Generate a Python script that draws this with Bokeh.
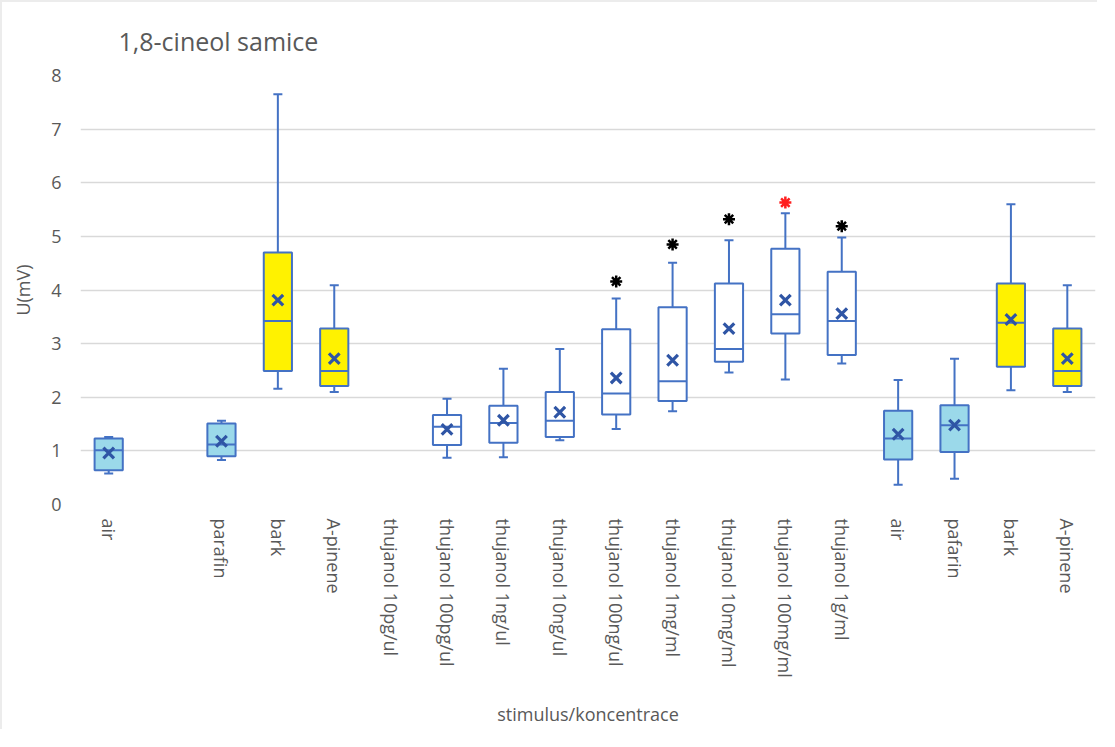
from bokeh.plotting import figure
from bokeh.models import Range1d, FixedTicker, ColumnDataSource
from bokeh.embed import file_html
from bokeh.resources import INLINE

# ---- data ----
categories = ["air", "", "parafin", "bark", "A-pinene",
              "thujanol 10pg/ul", "thujanol 100pg/ul", "thujanol 1ng/ul",
              "thujanol 10ng/ul", "thujanol 100ng/ul", "thujanol 1mg/ml",
              "thujanol 10mg/ml", "thujanol 100mg/ml", "thujanol 1g/ml",
              "air", "pafarin", "bark", "A-pinene"]
group = ["control", None, "control", "positive", "positive",
         None, "test", "test", "test", "test", "test", "test", "test", "test",
         "control", "control", "positive", "positive"]
whisker_low = [0.58, None, 0.83, 2.16, 2.10, None, 0.87, 0.88, 1.20, 1.41, 1.74, 2.46, 2.33, 2.63, 0.37, 0.48, 2.13, 2.10]
q1 =          [0.64, None, 0.90, 2.49, 2.21, None, 1.11, 1.15, 1.26, 1.68, 1.93, 2.66, 3.19, 2.79, 0.84, 0.98, 2.57, 2.21]
median =      [1.01, None, 1.12, 3.42, 2.49, None, 1.45, 1.52, 1.56, 2.07, 2.30, 2.90, 3.55, 3.42, 1.23, 1.48, 3.39, 2.49]
q3 =          [1.23, None, 1.51, 4.70, 3.28, None, 1.67, 1.84, 2.10, 3.27, 3.68, 4.12, 4.77, 4.34, 1.75, 1.85, 4.12, 3.28]
whisker_high =[1.26, None, 1.56, 7.65, 4.09, None, 1.97, 2.53, 2.90, 3.84, 4.51, 4.93, 5.43, 4.98, 2.32, 2.72, 5.60, 4.09]
mean =        [0.96, None, 1.18, 3.81, 2.72, None, 1.40, 1.57, 1.72, 2.36, 2.69, 3.28, 3.81, 3.56, 1.31, 1.48, 3.45, 2.72]

sig_index = [9, 10, 11, 12, 13]
sig_y = [4.16, 4.85, 5.32, 5.63, 5.19]
sig_color = ["black", "black", "black", "#ff2020", "black"]

fill_colors = {"control": "#9bd9ea", "positive": "#fff200", "test": "#ffffff"}
LINE = "#4472c4"
MEAN = "#2f55a5"
GRAY = "#595959"
FONT = "Open Sans"

BOX_W = 0.5
CAP_W = 0.16

# ---- build sources ----
pos = list(range(1, len(categories) + 1))
idx = [i for i in range(len(categories)) if median[i] is not None]
x = [pos[i] for i in idx]
src = ColumnDataSource(dict(
    x=x,
    lo=[whisker_low[i] for i in idx],
    q1=[q1[i] for i in idx],
    med=[median[i] for i in idx],
    q3=[q3[i] for i in idx],
    hi=[whisker_high[i] for i in idx],
    mean=[mean[i] for i in idx],
    fill=[fill_colors[group[i]] for i in idx],
    xl=[pos[i] - BOX_W / 2 for i in idx],
    xr=[pos[i] + BOX_W / 2 for i in idx],
    cl=[pos[i] - CAP_W / 2 for i in idx],
    cr=[pos[i] + CAP_W / 2 for i in idx],
))

p = figure(width=1097, height=729, output_backend="svg", toolbar_location=None,
           x_range=Range1d(0.5, len(categories) + 0.5), y_range=Range1d(0, 8),
           title="1,8-cineol samice",
           min_border_left=78, min_border_right=4, min_border_top=73, min_border_bottom=227)
p.styles = {"border-left": "2px solid #ececec", "border-top": "2px solid #ececec"}
p.outline_line_color = None
p.background_fill_color = "white"
p.border_fill_color = "white"

# title
p.title.text_font = FONT
p.title.text_font_size = "25px"
p.title.text_font_style = "normal"
p.title.text_color = GRAY
p.title.align = "left"
p.title.offset = 38
p.title.standoff = 36

# whiskers
p.segment(x0="x", y0="q3", x1="x", y1="hi", source=src, line_color=LINE, line_width=2)
p.segment(x0="x", y0="lo", x1="x", y1="q1", source=src, line_color=LINE, line_width=2)
p.segment(x0="cl", y0="hi", x1="cr", y1="hi", source=src, line_color=LINE, line_width=2)
p.segment(x0="cl", y0="lo", x1="cr", y1="lo", source=src, line_color=LINE, line_width=2)
# boxes
p.vbar(x="x", width=BOX_W, top="q3", bottom="q1", source=src,
       fill_color="fill", line_color=LINE, line_width=2)
# medians
p.segment(x0="xl", y0="med", x1="xr", y1="med", source=src, line_color=LINE, line_width=2)
# means
p.scatter(x="x", y="mean", source=src, marker="x", size=15, line_color=MEAN, line_width=3.2)

# significance stars
star_src = ColumnDataSource(dict(x=[pos[i] for i in sig_index], y=sig_y, c=sig_color))
p.scatter(x="x", y="y", source=star_src, marker="asterisk", size=12, line_color="c", line_width=2.5)

# axes
p.yaxis.ticker = FixedTicker(ticks=list(range(0, 9)))
p.yaxis.axis_line_color = None
p.yaxis.major_tick_line_color = None
p.yaxis.minor_tick_line_color = None
p.yaxis.major_label_text_font = FONT
p.yaxis.major_label_text_font_size = "18px"
p.yaxis.major_label_text_color = GRAY
p.yaxis.major_label_standoff = 13
p.yaxis.axis_label = "U(mV)"
p.yaxis.axis_label_text_font = FONT
p.yaxis.axis_label_text_font_size = "18px"
p.yaxis.axis_label_text_font_style = "normal"
p.yaxis.axis_label_text_color = GRAY
p.yaxis.axis_label_standoff = 13

p.xaxis.ticker = FixedTicker(ticks=pos)
p.xaxis.major_label_overrides = {pos[i]: categories[i] for i in range(len(categories))}
p.xaxis.major_label_orientation = "vertical"
p.xaxis.axis_line_color = None
p.xaxis.major_tick_line_color = None
p.xaxis.minor_tick_line_color = None
p.xaxis.major_label_text_font = FONT
p.xaxis.major_label_text_font_size = "18px"
p.xaxis.major_label_text_color = GRAY
p.xaxis.major_label_standoff = 8
p.xaxis.axis_label = "stimulus/koncentrace"
p.xaxis.axis_label_text_font = FONT
p.xaxis.axis_label_text_font_size = "18px"
p.xaxis.axis_label_text_font_style = "normal"
p.xaxis.axis_label_text_color = GRAY
p.xaxis.axis_label_standoff = 21

p.xgrid.grid_line_color = None
p.ygrid.grid_line_color = "#d9d9d9"
p.ygrid.grid_line_width = 1.5

open("out.html", "w").write(file_html(p, INLINE))
